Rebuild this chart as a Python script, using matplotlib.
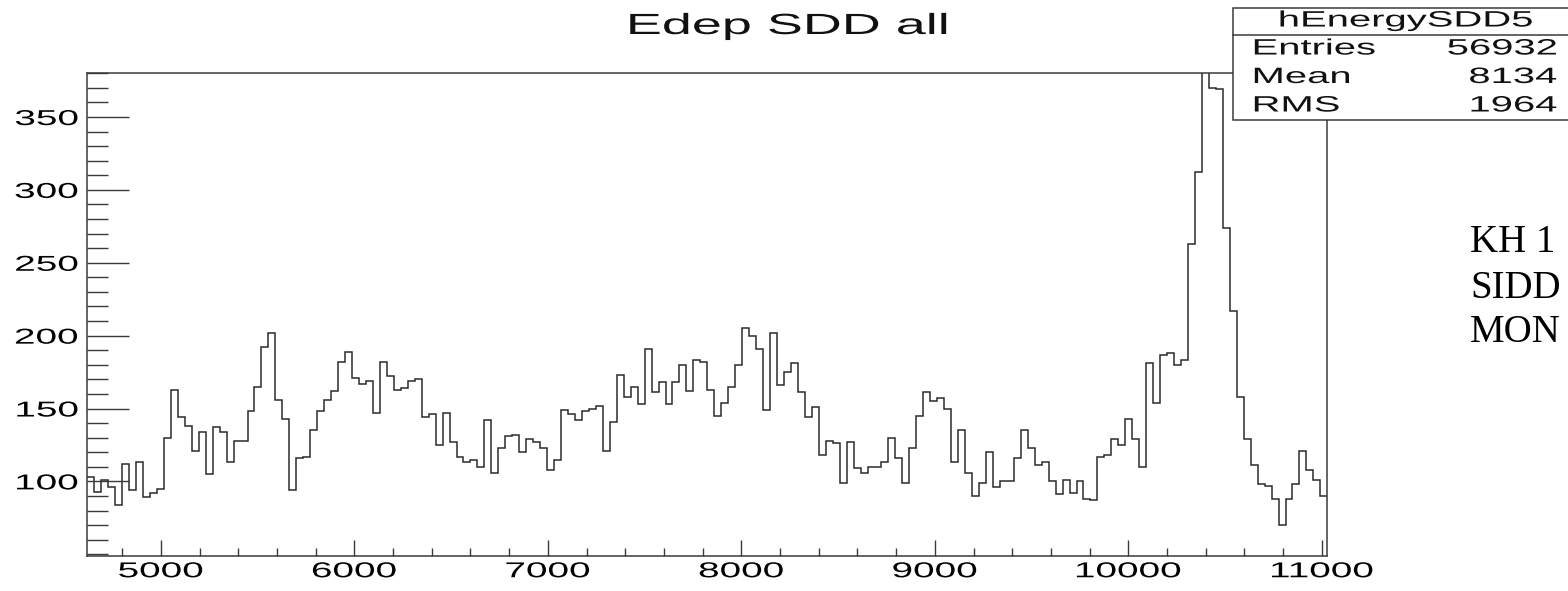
import matplotlib
matplotlib.use("Agg")
import numpy as np
import matplotlib.pyplot as plt
from matplotlib.patheffects import AbstractPathEffect
from matplotlib.transforms import Affine2D
from matplotlib.patches import Rectangle
from matplotlib.lines import Line2D
from matplotlib.ticker import MultipleLocator

# --- histogram contents: 178 bins of 36 starting at 4620 ---
x_lo = 4620.0
bin_width = 36.0
counts = [
    103, 93, 101, 96, 84, 112, 94, 113, 89, 92,
    95, 130, 163, 144, 138, 121, 134, 105, 137, 134,
    113, 128, 128, 148, 165, 192, 202, 156, 143, 94,
    116, 117, 135, 148, 156, 162, 182, 189, 171, 167,
    169, 147, 182, 172, 163, 164, 169, 170, 144, 146,
    125, 147, 127, 117, 113, 115, 110, 142, 106, 123,
    131, 132, 120, 129, 127, 123, 108, 115, 149, 146,
    142, 148, 150, 152, 121, 141, 173, 158, 165, 153,
    191, 161, 168, 153, 168, 180, 162, 183, 182, 163,
    145, 154, 165, 180, 205, 200, 191, 149, 202, 166,
    175, 181, 161, 144, 151, 118, 128, 126, 99, 127,
    109, 106, 110, 110, 113, 130, 116, 99, 123, 145,
    161, 155, 157, 150, 113, 135, 106, 90, 99, 120,
    96, 100, 100, 116, 135, 123, 111, 113, 100, 91,
    101, 92, 100, 88, 87, 117, 118, 129, 125, 143,
    129, 110, 181, 154, 187, 188, 180, 183, 263, 312,
    395, 370, 369, 274, 217, 158, 129, 111, 98, 97,
    88, 70, 88, 98, 121, 108, 101, 90,
]

title = "Edep SDD all"
stats_name = "hEnergySDD5"
stats_labels = ["Entries", "Mean", "RMS"]
stats_values = ["56932", "8134", "1964"]
side_lines = ["KH 1", "SIDD", "MON"]

x_ticks = [5000, 6000, 7000, 8000, 9000, 10000, 11000]
y_ticks = [100, 150, 200, 250, 300, 350]

W, H = 1568, 591
LINE = "#3a3a3a"


class Widen(AbstractPathEffect):
    """Draw glyphs stretched sideways, keeping one side (or the middle) fixed."""

    def __init__(self, sx, anchor=0.5):
        super().__init__()
        self.sx = sx
        self.anchor = anchor

    def draw_path(self, renderer, gc, tpath, affine, rgbFace=None):
        ext = tpath.get_extents()
        x0 = ext.x0 + self.anchor * ext.width
        widen = Affine2D().translate(-x0, 0).scale(self.sx, 1).translate(x0, 0)
        renderer.draw_path(gc, tpath, widen + affine, rgbFace)


def fx(x):
    return x / W


def fy(y):
    return 1 - y / H


plt.rcParams["font.family"] = ["Liberation Sans", "DejaVu Sans"]

fig = plt.figure(figsize=(W / 100, H / 100), dpi=100)
ax = fig.add_axes([fx(87.3), fy(555.7), (1327.3 - 87.3) / W, (555.7 - 73.3) / H])

edges = x_lo + bin_width * np.arange(len(counts) + 1)
ax.stairs(counts, edges, baseline=None, color="#2b2b2b", linewidth=1.1)

ax.set_xlim(edges[0], edges[-1])
ax.set_ylim(49, 380)

ax.set_xticks(x_ticks)
ax.set_yticks(y_ticks)
ax.xaxis.set_minor_locator(MultipleLocator(200))
ax.yaxis.set_minor_locator(MultipleLocator(10))
ax.tick_params(axis="both", which="both", direction="in", color=LINE, width=1.0,
               labelsize=15.5, top=False, right=False)
ax.tick_params(axis="y", which="major", length=30, pad=6.5)
ax.tick_params(axis="y", which="minor", length=15)
ax.tick_params(axis="x", which="major", length=11.5, pad=4)
ax.tick_params(axis="x", which="minor", length=6)

for lab in ax.get_xticklabels():
    lab.set_path_effects([Widen(1.8, 0.5)])
for lab in ax.get_yticklabels():
    lab.set_path_effects([Widen(1.8, 1.0)])

for sp in ax.spines.values():
    sp.set_color(LINE)
    sp.set_linewidth(1.1)

# title
fig.text(fx(788), fy(26), title, ha="center", va="center", fontsize=21,
         color="#111111", path_effects=[Widen(1.85, 0.5)])

# statistics box
box = Rectangle((fx(1233), fy(120)), fx(1590 - 1233), (120 - 8) / H,
                transform=fig.transFigure, facecolor="white", edgecolor=LINE,
                linewidth=1.1, zorder=5)
fig.add_artist(box)
fig.add_artist(Line2D([fx(1233), fx(1590)], [fy(35), fy(35)], transform=fig.transFigure,
                      color=LINE, linewidth=1.1, zorder=6))
fig.text(fx(1406), fy(21), stats_name, ha="center", va="center", fontsize=16,
         color="#111111", zorder=7, path_effects=[Widen(1.8, 0.5)])
for i, (lab, val) in enumerate(zip(stats_labels, stats_values)):
    yy = 49 + 28.5 * i
    fig.text(fx(1253), fy(yy), lab, ha="left", va="center", fontsize=16,
             color="#111111", zorder=7, path_effects=[Widen(1.8, 0.0)])
    fig.text(fx(1557), fy(yy), val, ha="right", va="center", fontsize=16,
             color="#111111", zorder=7, path_effects=[Widen(1.8, 1.0)])

# note on the right
for i, line in enumerate(side_lines):
    fig.text(fx(1470), fy(243 + 45 * i), line, ha="left", va="center",
             fontsize=28, family="Liberation Serif", color="black")

fig.savefig("out.png", dpi=100)
